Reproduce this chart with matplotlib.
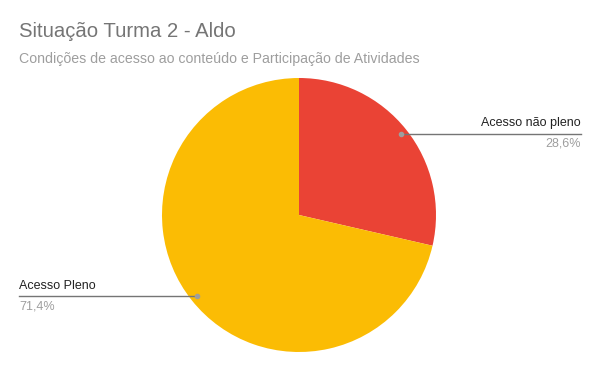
import numpy as np
import matplotlib.pyplot as plt

plt.rcParams['font.family'] = ['Liberation Sans', 'DejaVu Sans']

labels = ["Acesso não pleno", "Acesso Pleno"]
values = [28.6, 71.4]
pct_text = ["28,6%", "71,4%"]
colors = ["#EA4335", "#FBBC04"]

W, H = 600, 371
fig = plt.figure(figsize=(W / 100, H / 100), dpi=100)

cx, cy, r = 299, 215, 137
ax = fig.add_axes([(cx - r) / W, (H - cy - r) / H, 2 * r / W, 2 * r / H])
wedges, _ = ax.pie(values, colors=colors, startangle=90, counterclock=False,
                   radius=1, wedgeprops=dict(linewidth=0))
ax.set_xlim(-1, 1)
ax.set_ylim(-1, 1)
ax.set_aspect('equal')
ax.axis('off')

# leader lines and labels
line_end = [(581 - cx) / r, (19 - cx) / r]
for w, lab, pct, xe in zip(wedges, labels, pct_text, line_end):
    ang = np.deg2rad((w.theta1 + w.theta2) / 2)
    px, py = 0.955 * np.cos(ang), 0.955 * np.sin(ang)
    ax.plot([px, xe], [py, py], color="#757575", lw=1, clip_on=False)
    ax.plot([px], [py], 'o', color="#9e9e9e", ms=3, clip_on=False)
    ha = 'right' if xe > 0 else 'left'
    ax.text(xe, py + 0.03, lab, ha=ha, va='bottom',
            fontsize=9, color="#222222", clip_on=False)
    ax.text(xe, py - 0.03, pct, ha=ha, va='top',
            fontsize=9, color="#9e9e9e", clip_on=False)

fig.text(19 / W, 1 - 37 / H, "Situação Turma 2 - Aldo", fontsize=14.6,
         color="#757575", va='baseline', ha='left')
fig.text(19 / W, 1 - 63 / H,
         "Condições de acesso ao conteúdo e Participação de Atividades",
         fontsize=10.2, color="#9e9e9e", va='baseline', ha='left')

fig.savefig("out.png", dpi=100)
